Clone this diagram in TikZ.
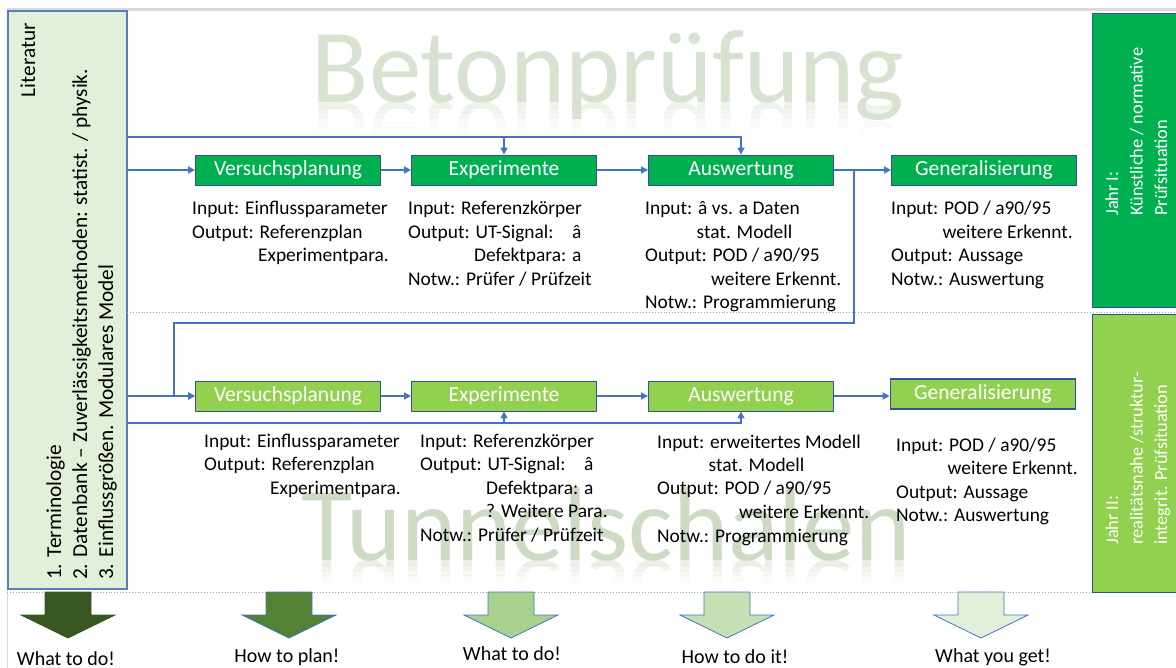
\documentclass[tikz,border=0pt]{standalone}
\usepackage{fontspec}
\setmainfont{Carlito}
\usetikzlibrary{arrows.meta}

\begin{document}
\begin{tikzpicture}[x=1pt, y=-1pt,
    flow/.style={draw=lineblue, line width=1.6pt, -{Triangle[length=7pt,width=7pt]}},
    divider/.style={draw=dotblue, line width=0.9pt, dotted},
    stage/.style={draw=edgeblue, line width=0.9pt, minimum width=185, minimum height=30,
        inner sep=0pt, text=white, font=\fontsize{21.5}{24}\selectfont},
    stageone/.style={stage, fill=greenone},
    stagetwo/.style={stage, fill=greentwo},
    info/.style={anchor=base west, inner sep=0pt, font=\fontsize{19.4}{23.5}\selectfont},
    yearbox/.style={draw=edgeblue, line width=0.9pt, minimum width=84, inner sep=0pt},
    yeartext/.style={rotate=90, anchor=base west, inner sep=0pt, text=white,
        font=\fontsize{18.3}{24.5}\selectfont},
    littext/.style={rotate=90, inner sep=0pt, font=\fontsize{21.3}{26}\selectfont},
    title/.style={anchor=base, inner sep=0pt, text=titlegreen, font=\fontsize{105}{105}\selectfont},
    goal/.style={anchor=base, inner sep=0pt, font=\fontsize{20}{24}\selectfont}
]

    % Define colors
    \definecolor{greenone}{RGB}{0,176,80}
    \definecolor{greentwo}{RGB}{146,208,80}
    \definecolor{litgreen}{RGB}{226,240,217}
    \definecolor{litedge}{RGB}{91,125,191}
    \definecolor{lineblue}{RGB}{68,114,196}
    \definecolor{edgeblue}{RGB}{47,85,151}
    \definecolor{dotblue}{RGB}{143,170,220}
    \definecolor{titlegreen}{RGB}{216,226,208}
    \definecolor{tunnelgreen}{RGB}{205,219,196}
    \definecolor{framegray}{RGB}{217,217,217}
    \definecolor{arrowA}{RGB}{56,87,35}
    \definecolor{arrowB}{RGB}{84,130,53}
    \definecolor{arrowC}{RGB}{169,209,142}
    \definecolor{arrowD}{RGB}{197,224,180}
    \definecolor{arrowE}{RGB}{226,240,217}

    \useasboundingbox (0,0) rectangle (1176,668);

    \draw[framegray, line width=2.5pt] (7,9.5) -- (1176,9.5);
    \draw[framegray, line width=1pt] (7,9.5) -- (7,668);

    % Titles with reflection
    \node[title] (beton) at (608,103) {Betonprüfung};
    \foreach \k/\op in {0/0.42,1/0.34,2/0.26,3/0.19,4/0.12,5/0.07,6/0.03} {
        \begin{scope}
            \clip (290,103+5*\k) rectangle (930,108+5*\k);
            \node[title, opacity=\op] (betonmirror\k) at (608,103) {\scalebox{1}[-1]{Betonprüfung}};
        \end{scope}
    }
    \node[title, text=tunnelgreen] (tunnel) at (606,560) {Tunnelschalen};
    \foreach \k/\op in {0/0.42,1/0.3,2/0.2,3/0.11,4/0.05} {
        \begin{scope}
            \clip (290,560+5*\k) rectangle (930,565+5*\k);
            \node[title, text=tunnelgreen, opacity=\op] (tunnelmirror\k) at (606,560) {\scalebox{1}[-1]{Tunnelschalen}};
        \end{scope}
    }

    % Literature column
    \node[draw=litedge, fill=litgreen, line width=1.2pt, minimum width=119, minimum height=578,
        inner sep=0pt] (lit) at (67.5,300) {};
    \node[littext, anchor=base east] (littitle) at (35,23) {Literatur};
    \node[littext, anchor=base west] (litlist) at (61,580) {\begin{tabular}[t]{@{}l@{}}
        1. Terminologie\\
        2. Datenbank – Zuverlässigkeitsmethoden: statist. / physik.\\
        3. Einflussgrößen. Modulares Model
    \end{tabular}};

    \draw[divider] (127,312) -- (1176,312);
    \draw[divider] (7,592) -- (1176,592);

    %-------------
    % First row
    \node[stageone] (vp1) at (288,170) {Versuchsplanung};
    \node[stageone] (ex1) at (504,170) {Experimente};
    \node[stageone] (aw1) at (741,170) {Auswertung};
    \node[stageone] (ge1) at (984,170) {Generalisierung};

    \coordinate (top) at (127,137);
    \draw[flow] (top) -| (aw1.north);
    \draw[flow] (top -| ex1.north) -- (ex1.north);
    \draw[flow] (lit.east |- vp1.west) -- (vp1.west);
    \draw[flow] (vp1) -- (ex1);
    \draw[flow] (ex1) -- (aw1);
    \draw[flow] (aw1) -- (ge1);

    \node[info] (vp1txt) at (192,215) {\begin{tabular}[t]{@{}l@{}}
        Input: Einflussparameter\\
        Output: Referenzplan\\
        \phantom{Output:} Experimentpara.
    \end{tabular}};
    \node[info] (ex1txt) at (408,215) {\begin{tabular}[t]{@{}l@{}}
        Input: Referenzkörper\\
        Output: \makebox[0pt][l]{UT-Signal:}\phantom{Defektpara:} â\\
        \phantom{Output:} Defektpara: a\\
        Notw.: Prüfer / Prüfzeit
    \end{tabular}};
    \node[info] (aw1txt) at (645,215) {\begin{tabular}[t]{@{}l@{}}
        Input: â vs. a Daten\\
        \phantom{Input:} stat. Modell\\
        Output: POD / a90/95\\
        \phantom{Output:} weitere Erkennt.\\
        Notw.: Programmierung
    \end{tabular}};
    \node[info] (ge1txt) at (891,215) {\begin{tabular}[t]{@{}l@{}}
        Input: POD / a90/95\\
        \phantom{Input:} weitere Erkennt.\\
        Output: Aussage\\
        Notw.: Auswertung
    \end{tabular}};

    %-------------
    % Second row
    \node[stagetwo] (vp2) at (288,396) {Versuchsplanung};
    \node[stagetwo] (ex2) at (504,396) {Experimente};
    \node[stagetwo] (aw2) at (741,396) {Auswertung};
    \node[stagetwo, line width=1.6pt] (ge2) at (983,394) {Generalisierung};

    % loop back from the first row
    \coordinate (turnR) at (854,323);
    \coordinate (turnL) at (174,323);
    \draw[flow] (aw1.east -| turnR) -- (turnR) -- (turnL) |- (vp2.west);

    \coordinate (bottom) at (127,423);
    \draw[flow] (bottom) -| (aw2.south);
    \draw[flow] (bottom -| ex2.south) -- (ex2.south);
    \draw[flow] (lit.east |- vp2.west) -- (vp2.west);
    \draw[flow] (vp2) -- (ex2);
    \draw[flow] (ex2) -- (aw2);
    \draw[flow] (aw2.east) -- (aw2.east -| ge2.west);

    \node[info] (vp2txt) at (204,447) {\begin{tabular}[t]{@{}l@{}}
        Input: Einflussparameter\\
        Output: Referenzplan\\
        \phantom{Output:} Experimentpara.
    \end{tabular}};
    \node[info] (ex2txt) at (420,447) {\begin{tabular}[t]{@{}l@{}}
        Input: Referenzkörper\\
        Output: \makebox[0pt][l]{UT-Signal:}\phantom{Defektpara:} â\\
        \phantom{Output:} Defektpara: a\\
        \phantom{Output:} ? Weitere Para.\\
        Notw.: Prüfer / Prüfzeit
    \end{tabular}};
    \node[info] (aw2txt) at (657,448) {\begin{tabular}[t]{@{}l@{}}
        Input: erweitertes Modell\\
        \phantom{Input:} stat. Modell\\
        Output: POD / a90/95\\
        \hspace*{82pt}weitere Erkennt.\\
        Notw.: Programmierung
    \end{tabular}};
    \node[info] (ge2txt) at (896,451) {\begin{tabular}[t]{@{}l@{}}
        Input: POD / a90/95\\
        \phantom{Input:} weitere Erkennt.\\
        Output: Aussage\\
        Notw.: Auswertung
    \end{tabular}};

    % Year boxes
    \node[yearbox, fill=greenone, minimum height=294] (jahr1) at (1134,160) {};
    \node[yeartext] (jahr1txt) at (1118,216) {\begin{tabular}[t]{@{}l@{}}
        Jahr I:\\
        Künstliche / normative\\
        Prüfsituation
    \end{tabular}};
    \node[yearbox, fill=greentwo, minimum height=278] (jahr2) at (1134,453) {};
    \node[yeartext] (jahr2txt) at (1118,545) {\begin{tabular}[t]{@{}l@{}}
        Jahr II:\\
        realitätsnahe /struktur-\\
        integrit. Prüfsituation
    \end{tabular}};

    %-------------
    % Down arrows
    \foreach \x/\lx/\ly/\col/\edge/\txt [count=\i] in
        {68/66/665/arrowA/arrowA/What to do!,
         289/287/662/arrowB/lineblue/How to plan!,
         511/512/660/arrowC/lineblue/What to do!,
         727/735/663/arrowD/lineblue/How to do it!,
         981/993/662/arrowE/lineblue/What you get!} {
        \filldraw[fill=\col, draw=\edge, line width=0.8pt]
            (\x-23,592) -- (\x+23,592) -- (\x+23,615) -- (\x+47,615)
            -- (\x,638) -- (\x-47,615) -- (\x-23,615) -- cycle;
        \node[goal] (goal\i) at (\lx,\ly) {\txt};
    }

\end{tikzpicture}
\end{document}
